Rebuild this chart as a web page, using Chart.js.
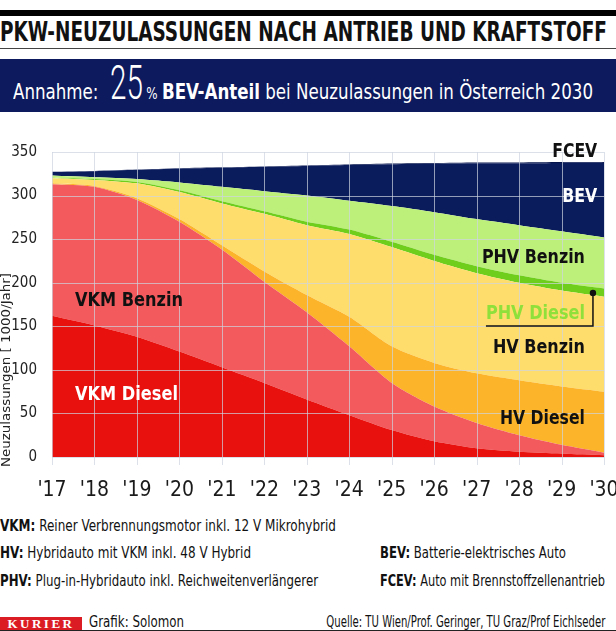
<!DOCTYPE html>
<html>
<head>
<meta charset="utf-8">
<script src="https://cdn.jsdelivr.net/npm/chart.js@4.4.1/dist/chart.umd.min.js"></script>
<style>
  body { margin: 0; width: 616px; height: 631px; position: relative; overflow: hidden; background: #fff;
         font-family: "DejaVu Sans Condensed", "Liberation Sans Narrow", "Roboto", sans-serif; font-stretch: condensed; color: #111; }
  .abs { position: absolute; white-space: nowrap; }
  .fit { transform-origin: 0 0; }
  .fitr { transform-origin: 100% 0; }
  #bar { left: 0; top: 10px; width: 616px; height: 6px; background: #000; }
  #title { left: 0; top: 17px; font-size: 26px; line-height: 30px; font-weight: bold; }
  #rule { left: 0; top: 48px; width: 616px; height: 1px; background: #444; }
  #banner { left: 0; top: 59px; width: 616px; height: 53px; background: #0d1a5e; }
  #bannerText { left: 13px; top: 59px; line-height: 1; color: #fff; font-size: 21px; }
  #bannerText .big { display: inline-block; font-family: "Roboto", sans-serif; font-weight: 300; font-size: 48px;
                     font-stretch: normal; transform: scaleX(0.7); transform-origin: 50% 100%; margin: 0 -4px 0 -1px; }
  #bannerText .pct { font-size: 15px; margin-right: 5px; }
  #chartBox { left: 0; top: 120px; width: 616px; height: 385px; }
  .note { font-size: 15px; line-height: 15px; }
  .note b { font-weight: bold; }
  #kurier { left: 0; top: 617px; width: 82px; height: 13px; background: #dc1c24; color: #fff;
            font-family: "Liberation Serif", serif; font-size: 13px; line-height: 13px; letter-spacing: 2.5px; text-align: center; font-weight: bold; }
  #bottomRule { left: 0; top: 630px; width: 616px; height: 1px; background: #222; }
</style>
</head>
<body>
<div class="abs" id="bar"></div>
<div class="abs fit" id="title" data-w="607">PKW-NEUZULASSUNGEN NACH ANTRIEB UND KRAFTSTOFF</div>
<div class="abs" id="rule"></div>
<div class="abs" id="banner"></div>
<div class="abs fit" id="bannerText" data-w="580">Annahme: <span class="big">25</span><span class="pct">%</span><b>BEV-Anteil</b> bei Neuzulassungen in Österreich 2030</div>
<div class="abs" id="chartBox"><canvas id="pkwChart" width="616" height="385"></canvas></div>

<div class="abs note fit" style="left:0;top:519px" data-w="336"><b>VKM:</b> Reiner Verbrennungsmotor inkl. 12 V Mikrohybrid</div>
<div class="abs note fit" style="left:0;top:546px" data-w="251"><b>HV:</b> Hybridauto mit VKM inkl. 48 V Hybrid</div>
<div class="abs note fit" style="left:0;top:574px" data-w="318"><b>PHV:</b> Plug-in-Hybridauto inkl. Reichweitenverlängerer</div>
<div class="abs note fit" style="left:380px;top:546px" data-w="186"><b>BEV:</b> Batterie-elektrisches Auto</div>
<div class="abs note fit" style="left:380px;top:574px" data-w="225"><b>FCEV:</b> Auto mit Brennstoffzellenantrieb</div>

<div class="abs" id="kurier">KURIER</div>
<div class="abs note fit" style="left:89px;top:615px" data-w="95">Grafik: Solomon</div>
<div class="abs note fitr" style="right:11px;top:615px" data-w="279">Quelle: TU Wien/Prof. Geringer, TU Graz/Prof Eichlseder</div>
<div class="abs" id="bottomRule"></div>

<script>
// Neuzulassungen in 1000/Jahr, gestapelt von unten nach oben
const years = ["'17", "'18", "'19", "'20", "'21", "'22", "'23", "'24", "'25", "'26", "'27", "'28", "'29", "'30"];
const vkmDiesel = [162, 151, 138, 121, 103, 85, 66, 48, 31, 18, 10, 6, 4, 2];
const vkmBenzin = [151, 159, 157, 149, 135, 116, 100, 79, 54, 40, 29, 19, 10, 3];
const hvDiesel = [1, 1, 2, 3, 5, 12, 20, 34, 42, 50, 57, 63, 67, 70];
const hvBenzin = [6, 7, 17, 31, 48, 66, 80, 95, 114, 117, 115, 112, 110, 109];
const phvDiesel = [0.5, 1, 1.5, 2, 2.5, 3, 4, 5, 6, 7, 8, 8.5, 9, 9.5];
const phvBenzin = [2.5, 2, 3.5, 9, 16.5, 23, 30, 33, 41, 49, 54, 57.5, 59, 58.5];
const bev = [4, 7, 10.5, 16, 22, 28, 34, 41, 48, 55.5, 64, 71, 78.5, 85.5];
const fcev = [0.2, 0.2, 0.3, 0.3, 0.4, 0.5, 0.5, 0.6, 0.7, 0.8, 0.9, 1, 1, 1.1];
const yTicks = [0, 50, 100, 150, 200, 250, 300, 350];

const FONT = '"DejaVu Sans Condensed", "Liberation Sans Narrow", "Roboto", sans-serif';

// squeeze html text to the width it has in the print graphic
document.querySelectorAll('.fit, .fitr').forEach(el => {
  const w = el.getBoundingClientRect().width;
  el.style.transform = 'scaleX(' + (el.dataset.w / w) + ')';
});

function area(label, data, color, fill) {
  return {
    label: label,
    data: data,
    backgroundColor: color,
    borderWidth: 0,
    pointRadius: 0,
    fill: fill,
    tension: 0.25,
  };
}

// grid drawn over the filled areas, like in the print graphic
const gridPlugin = {
  id: 'gridOnTop',
  afterDatasetsDraw(chart) {
    const ctx = chart.ctx;
    const x = chart.scales.x;
    const y = chart.scales.y;
    const a = chart.chartArea;
    ctx.save();
    ctx.strokeStyle = 'rgba(205, 212, 224, 0.7)';
    ctx.lineWidth = 1;
    ctx.beginPath();
    years.forEach((_, i) => {
      const px = Math.round(x.getPixelForTick(i)) + 0.5;
      ctx.moveTo(px, a.top);
      ctx.lineTo(px, a.bottom + 8);
    });
    yTicks.forEach(v => {
      const py = Math.round(y.getPixelForValue(v)) + 0.5;
      ctx.moveTo(a.left, py);
      ctx.lineTo(a.right, py);
    });
    ctx.stroke();
    ctx.restore();
  }
};

// text labels inside the areas: [text, x index, y value, colour, align, width]
const areaLabels = [
  ['VKM Benzin', 0.54, 180, '#111', 'left', 108],
  ['VKM Diesel', 0.54, 73, '#fff', 'left', 103],
  ['FCEV', 12.84, 351, '#111', 'right', 45],
  ['BEV', 12.84, 300, '#fff', 'right', 35],
  ['PHV Benzin', 12.55, 230, '#111', 'right', 103],
  ['PHV Diesel', 12.55, 165, '#8fe03a', 'right', 99],
  ['HV Benzin', 12.55, 126, '#111', 'right', 92],
  ['HV Diesel', 12.55, 45, '#111', 'right', 85],
];

const labelPlugin = {
  id: 'areaLabels',
  afterDraw(chart) {
    const ctx = chart.ctx;
    const x = chart.scales.x;
    const y = chart.scales.y;
    ctx.save();
    ctx.font = 'bold 20px ' + FONT;
    ctx.textBaseline = 'middle';
    areaLabels.forEach(([text, xi, yv, color, align, width]) => {
      const px = x.getPixelForValue(xi);
      const py = y.getPixelForValue(yv);
      const sx = width / ctx.measureText(text).width;
      ctx.save();
      ctx.translate(px, py);
      ctx.scale(sx, 1);
      ctx.textAlign = align;
      ctx.fillStyle = color;
      ctx.fillText(text, 0, 1);
      ctx.restore();
    });

    // callout for PHV Diesel
    ctx.strokeStyle = '#111';
    ctx.lineWidth = 1.5;
    ctx.beginPath();
    ctx.moveTo(x.getPixelForValue(10.22), y.getPixelForValue(150.4));
    ctx.lineTo(x.getPixelForValue(12.74), y.getPixelForValue(150.4));
    ctx.lineTo(x.getPixelForValue(12.74), y.getPixelForValue(188.3));
    ctx.stroke();
    ctx.fillStyle = '#111';
    ctx.beginPath();
    ctx.arc(x.getPixelForValue(12.74), y.getPixelForValue(188.3), 3.2, 0, Math.PI * 2);
    ctx.fill();

    // y axis title
    ctx.font = '13px ' + FONT;
    const title = 'Neuzulassungen [ 1000/Jahr]';
    ctx.translate(7, y.bottom + 10);
    ctx.rotate(-Math.PI / 2);
    ctx.scale(194 / ctx.measureText(title).width, 1);
    ctx.textAlign = 'left';
    ctx.fillStyle = '#222';
    ctx.fillText(title, 0, 0);
    ctx.restore();
  }
};

new Chart(document.getElementById('pkwChart').getContext('2d'), {
  type: 'line',
  data: {
    labels: years,
    datasets: [
      area('VKM Diesel', vkmDiesel, '#e8110e', 'origin'),
      area('VKM Benzin', vkmBenzin, '#f25a5d', '-1'),
      area('HV Diesel', hvDiesel, '#fcb52b', '-1'),
      area('HV Benzin', hvBenzin, '#fedd6c', '-1'),
      area('PHV Diesel', phvDiesel, '#6fcd1c', '-1'),
      area('PHV Benzin', phvBenzin, '#bdf07a', '-1'),
      area('BEV', bev, '#0b1c5c', '-1'),
      area('FCEV', fcev, '#06144c', '-1'),
    ],
  },
  options: {
    responsive: false,
    animation: false,
    layout: {
      padding: { top: 32, right: 12, bottom: 8, left: 0 },
    },
    plugins: {
      legend: { display: false },
      tooltip: { enabled: false },
    },
    scales: {
      x: {
        grid: { display: false },
        border: { display: false },
        ticks: { color: '#1a1a1a', font: { family: FONT, size: 21 }, padding: 13, maxRotation: 0, autoSkip: false },
        afterFit(scale) { scale.paddingLeft = 0; scale.paddingRight = 0; scale.height = 40; },
      },
      y: {
        stacked: true,
        min: 0,
        max: 350,
        afterBuildTicks(scale) { scale.ticks = yTicks.map(v => ({ value: v })); },
        grid: { display: false },
        border: { display: false },
        ticks: { color: '#222', font: { family: FONT, size: 15 }, padding: 7 },
        afterFit(scale) { scale.width = 52; },
      },
    },
  },
  plugins: [gridPlugin, labelPlugin],
});
</script>
</body>
</html>
